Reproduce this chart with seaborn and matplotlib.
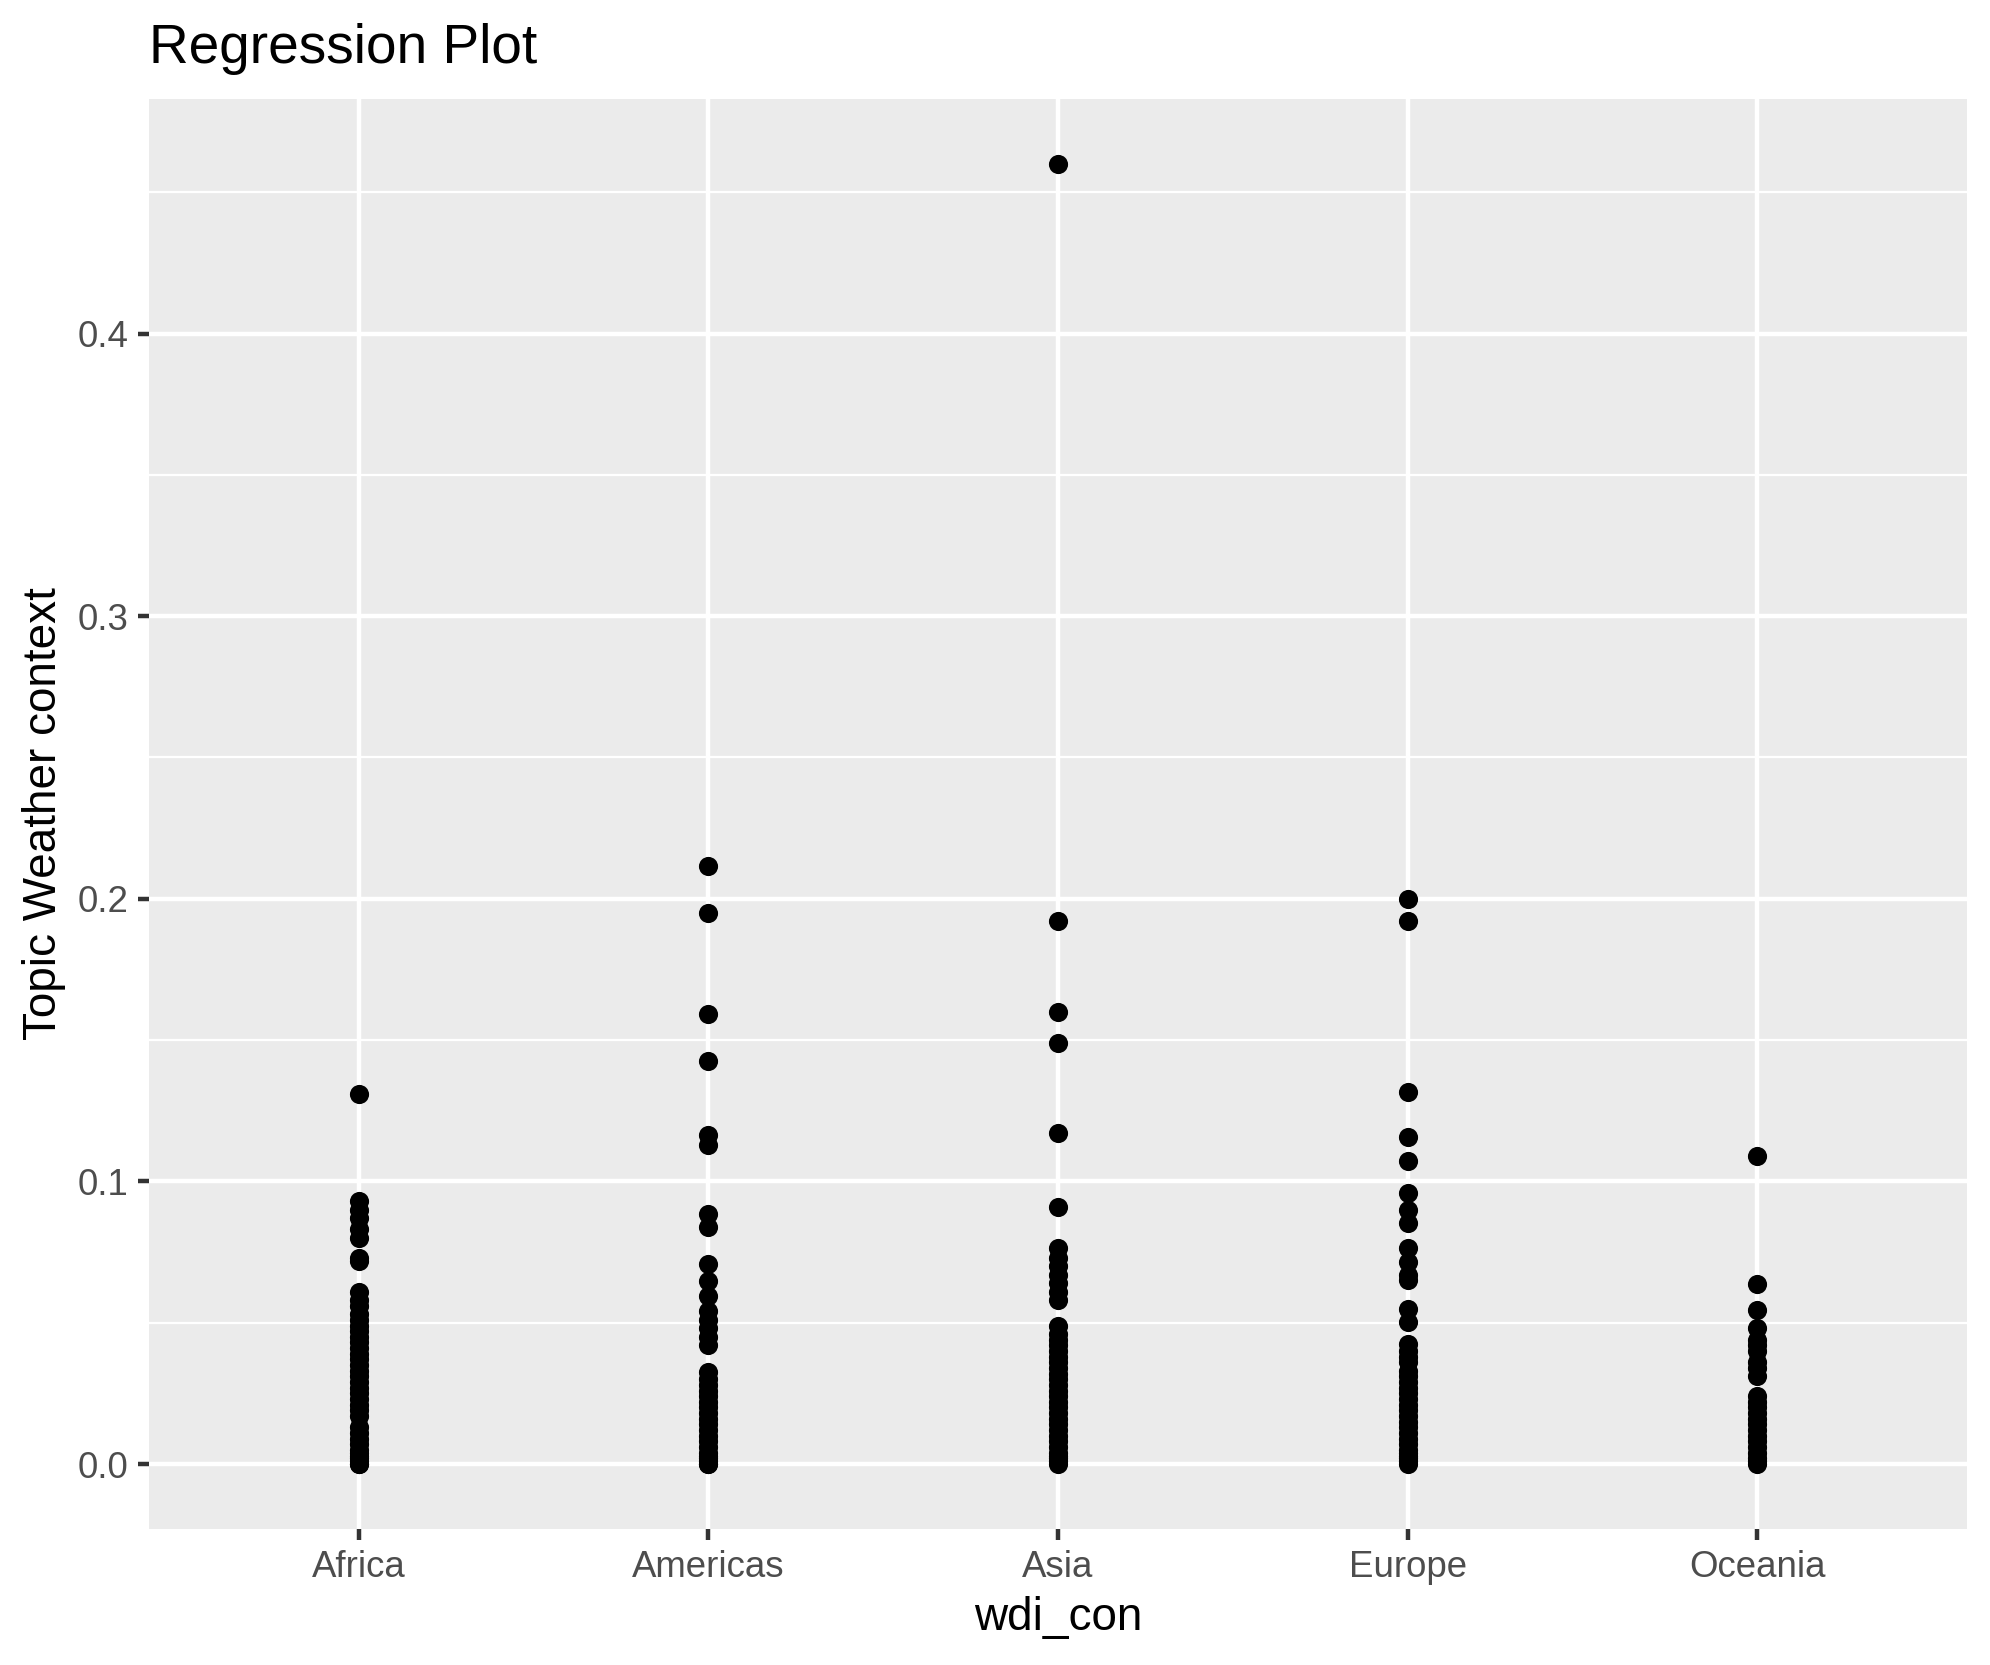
#!/usr/bin/env python3
""" Strip plot of topic share per continent, ggplot-like look """

import pandas as pd
import matplotlib.pyplot as plt
from matplotlib.ticker import MultipleLocator
import seaborn as sns

# Values, one list per continent
continents = ['Africa', 'Americas', 'Asia', 'Europe', 'Oceania']

africa = [0.131, 0.093, 0.090, 0.087, 0.083, 0.080, 0.073, 0.072,
          0.061, 0.058, 0.056, 0.053, 0.051, 0.049, 0.047, 0.045, 0.043,
          0.041, 0.039, 0.037, 0.035, 0.033, 0.031, 0.029, 0.027, 0.025,
          0.023, 0.021, 0.019, 0.017, 0.013, 0.011, 0.009, 0.007, 0.005,
          0.004, 0.003, 0.002, 0.001, 0.0, 0.0]
americas = [0.2115, 0.1948, 0.1592, 0.1426, 0.1165, 0.113, 0.0886, 0.084,
            0.0706, 0.0649, 0.0593, 0.054, 0.051, 0.048, 0.045, 0.042,
            0.0325, 0.030, 0.028, 0.026, 0.024, 0.022, 0.020, 0.018, 0.016,
            0.014, 0.012, 0.010, 0.008, 0.006, 0.004, 0.003, 0.002, 0.001,
            0.0, 0.0]
asia = [0.46, 0.192, 0.160, 0.149, 0.117, 0.091, 0.0766, 0.073, 0.070,
        0.067, 0.064, 0.061, 0.058, 0.0487, 0.046, 0.044, 0.042, 0.040,
        0.038, 0.036, 0.034, 0.032, 0.030, 0.028, 0.026, 0.024, 0.022,
        0.020, 0.018, 0.016, 0.014, 0.012, 0.010, 0.008, 0.006, 0.004,
        0.003, 0.002, 0.001, 0.0]
europe = [0.200, 0.1922, 0.1318, 0.1158, 0.1073, 0.096, 0.090, 0.0854,
          0.0763, 0.0715, 0.067, 0.065, 0.055, 0.0503, 0.0424, 0.040, 0.038,
          0.036, 0.033, 0.031, 0.029, 0.027, 0.025, 0.023, 0.021, 0.019,
          0.017, 0.015, 0.013, 0.011, 0.009, 0.007, 0.005, 0.004, 0.003,
          0.002, 0.001, 0.0]
oceania = [0.109, 0.0638, 0.0544, 0.048, 0.044, 0.042, 0.040, 0.036, 0.034,
           0.031, 0.024, 0.022, 0.020, 0.018, 0.016, 0.014, 0.012, 0.010,
           0.008, 0.006, 0.004, 0.002, 0.001, 0.0]

y_ticks = [0.0, 0.1, 0.2, 0.3, 0.4]
y_tick_labels = ['0.0', '0.1', '0.2', '0.3', '0.4']


def build_frame():
  """ Long table: one row per point """
  series = [africa, americas, asia, europe, oceania]
  rows = []
  for name, vals in zip(continents, series):
    for v in vals:
      rows.append({'wdi_con': name, 'topic': v})
  return pd.DataFrame(rows)


def main():
  df = build_frame()

  sns.set_theme(style='darkgrid', rc={
    'axes.facecolor': '#EBEBEB',
    'grid.color': 'white',
    'axes.edgecolor': '#EBEBEB',
  })
  plt.rcParams['font.family'] = ['Liberation Sans', 'DejaVu Sans']

  fig = plt.figure(figsize=(1990 / 300, 1665 / 300), dpi=300)
  ax = fig.add_axes([149 / 1990, 1 - 1529 / 1665,
                     (1967 - 149) / 1990, (1529 - 99) / 1665])

  sns.stripplot(data=df, x='wdi_con', y='topic', order=continents,
                jitter=False, color='black', size=4.6, linewidth=0, ax=ax)

  ymax = max(asia)
  ax.set_xlim(-0.6, 4.6)
  ax.set_ylim(-0.05 * ymax, 1.05 * ymax)

  ax.set_yticks(y_ticks)
  ax.set_yticklabels(y_tick_labels)
  ax.yaxis.set_minor_locator(MultipleLocator(0.05))
  ax.grid(which='major', color='white', linewidth=1.07)
  ax.grid(which='minor', axis='y', color='white', linewidth=0.53)
  ax.set_axisbelow(True)
  for s in ax.spines.values():
    s.set_visible(False)

  ax.tick_params(axis='both', which='major', length=2.75, width=1.07,
                 color='#333333', labelcolor='#4D4D4D', labelsize=8.8,
                 pad=2.2, left=True, bottom=True)
  ax.tick_params(axis='y', which='minor', length=0)

  ax.set_xlabel('wdi_con', fontsize=11, color='black', labelpad=2.75)
  ax.set_ylabel('Topic Weather context', fontsize=11, color='black',
                labelpad=2.75)
  fig.text(149 / 1990, 1 - 63 / 1665, 'Regression Plot', fontsize=13.2,
           color='black', ha='left', va='baseline')

  fig.savefig('out.png', dpi=300)


if __name__ == '__main__':
  main()
